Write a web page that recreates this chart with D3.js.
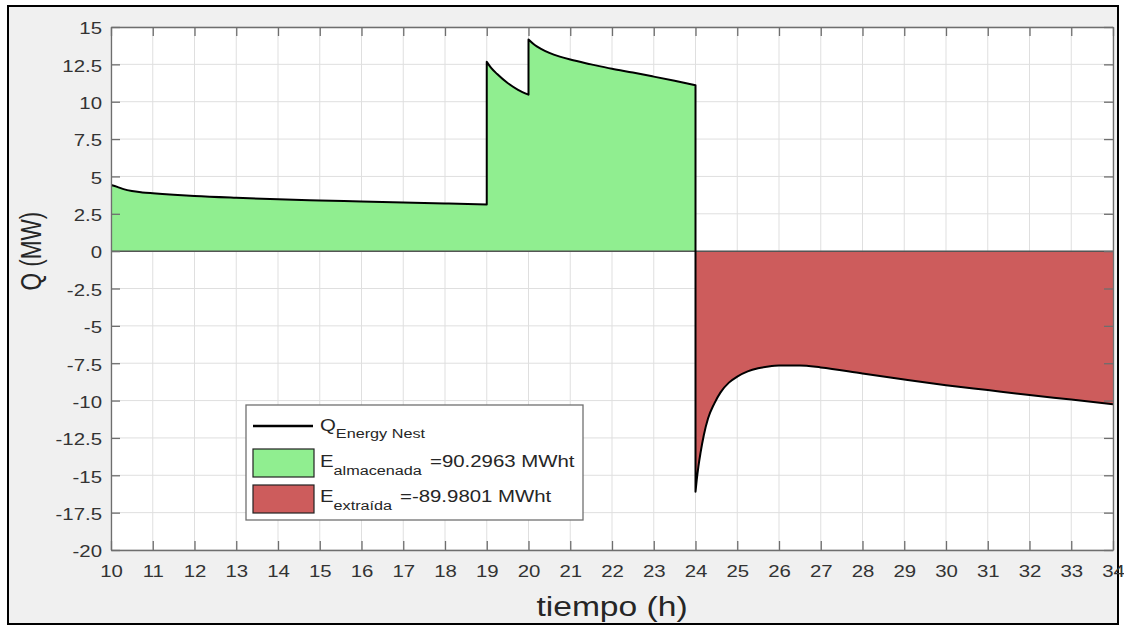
<!DOCTYPE html>
<html>
<head>
<meta charset="utf-8">
<script src="https://cdn.jsdelivr.net/npm/d3@7"></script>
<style>
  body { margin: 0; background: #ffffff; }
  svg { display: block; font-family: "Liberation Sans", Arial, Helvetica, sans-serif; }
</style>
</head>
<body>
<svg id="chart" width="1124" height="628"></svg>
<script>
// Heat flow of the Energy Nest storage, [hour, MW] pairs, split at the step changes.
const chargeBase = [
  [10, 4.43], [10.15, 4.3], [10.3, 4.15], [10.5, 4.02], [10.75, 3.93], [11, 3.87],
  [11.5, 3.77], [12, 3.69], [13, 3.57], [14, 3.47], [15, 3.39], [16, 3.32],
  [17, 3.25], [18, 3.19], [19, 3.12]
];
const chargeStepA = [
  [19, 12.67], [19.1, 12.28], [19.25, 11.85], [19.5, 11.25], [19.75, 10.8], [20, 10.47]
];
const chargeStepB = [
  [20, 14.17], [20.15, 13.8], [20.3, 13.54], [20.5, 13.27], [20.75, 13.02], [21, 12.82],
  [21.5, 12.5], [22, 12.2], [22.5, 11.95], [23, 11.68], [23.5, 11.4], [24, 11.1]
];
const discharge = [
  [24, -16.1], [24.03, -15.3], [24.07, -14.4], [24.12, -13.5], [24.2, -12.3],
  [24.3, -11.2], [24.45, -10.2], [24.6, -9.45], [24.8, -8.8], [25, -8.4],
  [25.25, -8.05], [25.5, -7.84], [25.75, -7.72], [26, -7.66], [26.5, -7.66],
  [27, -7.78], [28, -8.19], [29, -8.59], [30, -8.97], [31, -9.3], [32, -9.63],
  [33, -9.93], [34, -10.24]
];

const xTicks = d3.range(10, 35, 1);
const yTicks = [15, 12.5, 10, 7.5, 5, 2.5, 0, -2.5, -5, -7.5, -10, -12.5, -15, -17.5, -20];
const xDomain = [10, 34];
const yDomain = [-20, 15];

const lineLabel = { main: "Q", sub: "Energy Nest" };
const storedLabel = { main: "E", sub: "almacenada", value: "=90.2963 MWht" };
const extractedLabel = { main: "E", sub: "extraída", value: "=-89.9801 MWht" };

const colors = { stored: "#90ee90", extracted: "#cd5c5c", line: "#000000" };

const svg = d3.select("#chart");
const W = 1124, H = 628;
const plot = { left: 111, right: 1113, top: 27, bottom: 550 };
const STRETCH = 1.2;

// figure frame
svg.append("rect").attr("width", W).attr("height", H).attr("fill", "#ffffff");
svg.append("rect")
  .attr("x", 8).attr("y", 6).attr("width", 1110).attr("height", 618)
  .attr("fill", "#f0f0f0").attr("stroke", "#000").attr("stroke-width", 2);

const x = d3.scaleLinear().domain(xDomain).range([plot.left, plot.right]);
const y = d3.scaleLinear().domain(yDomain).range([plot.bottom, plot.top]);

svg.append("rect")
  .attr("x", plot.left).attr("y", plot.top)
  .attr("width", plot.right - plot.left).attr("height", plot.bottom - plot.top)
  .attr("fill", "#ffffff");

svg.append("clipPath").attr("id", "plotClip").append("rect")
  .attr("x", plot.left).attr("y", plot.top)
  .attr("width", plot.right - plot.left).attr("height", plot.bottom - plot.top);

// grid
const grid = svg.append("g").attr("stroke", "#dfdfdf").attr("stroke-width", 1);
grid.selectAll("line.gx").data(xTicks).join("line")
  .attr("x1", d => x(d)).attr("x2", d => x(d))
  .attr("y1", plot.top).attr("y2", plot.bottom);
grid.selectAll("line.gy").data(yTicks).join("line")
  .attr("y1", d => y(d)).attr("y2", d => y(d))
  .attr("x1", plot.left).attr("x2", plot.right);

// smooth path pieces joined into one polyline
const segLine = d3.line().x(d => x(d[0])).y(d => y(d[1])).curve(d3.curveMonotoneX);
const cont = seg => segLine(seg).replace(/^M/, "L");

const chargePath = cont(chargeBase) + cont(chargeStepA) + cont(chargeStepB);
const dischargePath = cont(discharge);

const data = svg.append("g").attr("clip-path", "url(#plotClip)");

data.append("path")
  .attr("d", `M${x(10)},${y(0)}` + chargePath + `L${x(24)},${y(0)}Z`)
  .attr("fill", colors.stored);
data.append("path")
  .attr("d", `M${x(24)},${y(0)}` + dischargePath + `L${x(34)},${y(0)}Z`)
  .attr("fill", colors.extracted);

// area baseline
data.append("line")
  .attr("x1", x(10)).attr("x2", x(34)).attr("y1", y(0)).attr("y2", y(0))
  .attr("stroke", "#555").attr("stroke-width", 1.5);

data.append("path")
  .attr("d", `M${x(10)},${y(0)}` + chargePath + dischargePath)
  .attr("fill", "none").attr("stroke", colors.line)
  .attr("stroke-width", 2).attr("stroke-linejoin", "round");

// axes with inward ticks on all four sides
const axisColor = "#6e6e6e";
function styleAxis(g) {
  g.select(".domain").attr("stroke", axisColor).attr("stroke-width", 1.3);
  g.selectAll(".tick line").attr("stroke", axisColor).attr("stroke-width", 1.3);
  g.selectAll(".tick text").attr("fill", "#333").attr("font-size", 17)
    .attr("font-family", "'Liberation Sans', Arial, sans-serif");
}

const xAxis = svg.append("g").attr("transform", `translate(0,${plot.bottom})`)
  .call(d3.axisBottom(x).tickValues(xTicks).tickFormat(d3.format("d"))
    .tickSizeInner(-9).tickSizeOuter(0).tickPadding(15));
styleAxis(xAxis);
xAxis.selectAll(".tick text").attr("transform", `scale(${STRETCH},1)`);

const yAxis = svg.append("g").attr("transform", `translate(${plot.left},0)`)
  .call(d3.axisLeft(y).tickValues(yTicks).tickFormat(d => String(d))
    .tickSizeInner(-9).tickSizeOuter(0).tickPadding(7.5));
styleAxis(yAxis);
yAxis.selectAll(".tick text").attr("transform", `scale(${STRETCH},1)`).attr("dy", "0.4em");

const topAxis = svg.append("g").attr("transform", `translate(0,${plot.top})`)
  .call(d3.axisTop(x).tickValues(xTicks).tickFormat("").tickSizeInner(-9).tickSizeOuter(0));
styleAxis(topAxis);
const rightAxis = svg.append("g").attr("transform", `translate(${plot.right},0)`)
  .call(d3.axisRight(y).tickValues(yTicks).tickFormat("").tickSizeInner(-9).tickSizeOuter(0));
styleAxis(rightAxis);

// axis titles
svg.append("g").attr("transform", `translate(${(plot.left + plot.right) / 2},616) scale(${STRETCH},1)`)
  .append("text").attr("text-anchor", "middle").attr("font-size", 28).attr("fill", "#262626")
  .text("tiempo (h)");
svg.append("g").attr("transform", `translate(41,${y(0)}) scale(1.32,1) rotate(-90)`)
  .append("text").attr("text-anchor", "middle").attr("font-size", 22.5).attr("fill", "#262626")
  .text("Q (MW)");

// legend
const legend = svg.append("g");
legend.append("rect")
  .attr("x", 246).attr("y", 405).attr("width", 337).attr("height", 115)
  .attr("fill", "#fff").attr("stroke", "#707070").attr("stroke-width", 1.3);
legend.append("line")
  .attr("x1", 253).attr("x2", 313).attr("y1", 426).attr("y2", 426)
  .attr("stroke", colors.line).attr("stroke-width", 2.5);
legend.append("rect").attr("x", 253).attr("y", 449).attr("width", 61).attr("height", 28)
  .attr("fill", colors.stored).attr("stroke", "#222").attr("stroke-width", 1.2);
legend.append("rect").attr("x", 253).attr("y", 485).attr("width", 61).attr("height", 28)
  .attr("fill", colors.extracted).attr("stroke", "#222").attr("stroke-width", 1.2);

function subText(px, py, label, subShift) {
  const t = legend.append("g").attr("transform", `translate(${px},${py}) scale(${STRETCH},1)`)
    .append("text").attr("font-size", 17).attr("fill", "#262626");
  t.append("tspan").text(label.main);
  t.append("tspan").attr("font-size", 13.5).attr("dy", subShift).text(label.sub);
}
function plainText(px, py, str) {
  legend.append("g").attr("transform", `translate(${px},${py}) scale(${STRETCH},1)`)
    .append("text").attr("font-size", 17).attr("fill", "#262626").text(str);
}
subText(320, 431, lineLabel, 7);
subText(320, 467, storedLabel, 8);
plainText(430, 467, storedLabel.value);
subText(320, 502, extractedLabel, 8);
plainText(400, 502, extractedLabel.value);
</script>
</body>
</html>
